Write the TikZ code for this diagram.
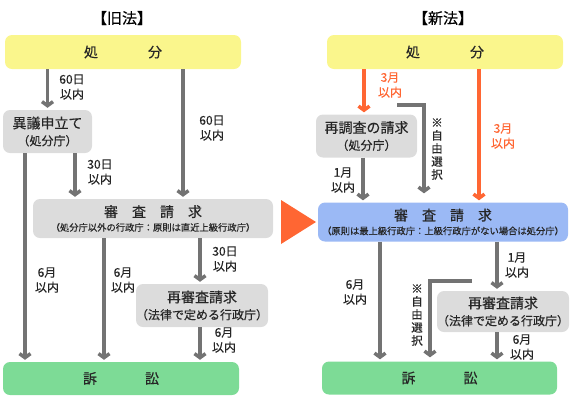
\documentclass[tikz,border=0pt]{standalone}
\usepackage{fontspec}
\setmainfont{Noto Sans CJK JP}[FakeBold=0.4]
\usepackage{tikz}
\usetikzlibrary{arrows.meta,positioning}
\usepackage{xcolor}
\definecolor{shobuncolor}{RGB}{250,246,140}
\definecolor{soshocolor}{RGB}{125,219,150}
\definecolor{shinsacolor}{RGB}{155,185,245}
\definecolor{boxgray}{RGB}{220,220,220}
\definecolor{arrowgray}{RGB}{115,115,115}
\definecolor{neworange}{RGB}{255,102,51}

\begin{document}
\begin{tikzpicture}[
    x=1pt, y=-1pt,
    box/.style={rounded corners=7pt, inner sep=0pt, align=center, text=black!85, font=\fontsize{14}{17}\selectfont},
    arr/.style={draw=arrowgray, line width=3.5pt, -{Straight Barb[length=4pt,width=11pt]}, shorten >=2pt},
    oarr/.style={arr, draw=neworange},
    lbl/.style={align=center, font=\fontsize{12}{15}\selectfont, text=black!85},
    olbl/.style={lbl, text=neworange},
    free/.style={align=center, font=\fontsize{11.5}{13}\selectfont, text=black!85}
]
    \useasboundingbox (0,0) rectangle (570,400);

    % Old law
    \node[font=\fontsize{15}{17}\selectfont] (titleA) at (122,18) {【旧法】};
    \node[box, fill=shobuncolor, minimum width=236pt, minimum height=34pt] (shobunA) at (123,52) {処\hspace{50pt}分};
    \node[box, fill=boxgray, minimum width=89pt, minimum height=43pt] (igi) at (47.5,131.5) {異議申立て\\{\fontsize{12}{14}\selectfont（処分庁）}};
    \node[box, fill=boxgray, minimum width=240pt, minimum height=39pt] (shinsaA) at (153,218.5) {審　査　請　求\\[-3pt]{\fontsize{9.3}{10}\selectfont（処分庁以外の行政庁：原則は直近上級行政庁）}};
    \node[box, fill=boxgray, minimum width=130pt, minimum height=43pt] (saishinA) at (202,305.5) {再審査請求\\{\fontsize{12}{14}\selectfont（法律で定める行政庁）}};
    \node[box, fill=soshocolor, minimum width=236pt, minimum height=33pt] (soshoA) at (121,378.5) {訴\hspace{48pt}訟};

    \draw[arr] (shobunA.south -| igi.north) -- (igi.north);
    \foreach \a/\b/\x in {shobunA/shinsaA/183, igi/soshoA/25, igi/shinsaA/75, shinsaA/soshoA/104, shinsaA/saishinA/200, saishinA/soshoA/200}
        \draw[arr] (\a.south -| \x,0) -- (\b.north -| \x,0);

    \foreach \x/\y/\t in {72/87/60日, 212/128/60日, 100/172/30日, 47/280/6月, 123/280/6月, 225/259/30日, 224/340/6月}
        \node[lbl] at (\x,\y) {\t\\以内};

    % Arrow between the two
    \fill[neworange] (281,200) -- (316,222) -- (281,244) -- cycle;

    % New law
    \node[font=\fontsize{15}{17}\selectfont] (titleB) at (443,18) {【新法】};
    \node[box, fill=shobuncolor, minimum width=236pt, minimum height=34pt] (shobunB) at (445,52) {処\hspace{50pt}分};
    \node[box, fill=boxgray, minimum width=101pt, minimum height=43pt] (saichosa) at (366.5,136) {再調査の請求\\{\fontsize{12}{14}\selectfont（処分庁）}};
    \node[box, fill=shinsacolor, minimum width=250pt, minimum height=39pt] (shinsaB) at (443,222) {審　査　請　求\\[-3pt]{\fontsize{9.3}{10}\selectfont（原則は最上級行政庁：上級行政庁がない場合は処分庁）}};
    \node[box, fill=boxgray, minimum width=129pt, minimum height=41pt] (saishinB) at (503,311.5) {再審査請求\\{\fontsize{12}{14}\selectfont（法律で定める行政庁）}};
    \node[box, fill=soshocolor, minimum width=235pt, minimum height=33pt] (soshoB) at (439.5,378) {訴\hspace{48pt}訟};

    \draw[oarr] (shobunB.south -| 364,0) -- (saichosa.north -| 364,0);
    \draw[oarr] (shobunB.south -| 479,0) -- (shinsaB.north -| 479,0);
    \foreach \a/\b/\x in {saichosa/shinsaB/363, shinsaB/soshoB/380, shinsaB/saishinB/497, saishinB/soshoB/497}
        \draw[arr] (\a.south -| \x,0) -- (\b.north -| \x,0);

    % Free choice
    \coordinate (freeA) at (397,105);
    \coordinate (freeB) at (472,281);
    \draw[arr, shorten >=9pt] (freeA) -| (shinsaB.north -| 424,0);
    \draw[arr, shorten >=4pt] (freeB) -| (soshoB.north -| 430,0);
    \node[free] at (437,149) {※\\自\\由\\選\\択};
    \node[free] at (417,315) {※\\自\\由\\選\\択};

    \node[olbl] at (390,85) {3月\\以内};
    \node[olbl] at (503,136) {3月\\以内};
    \foreach \x/\y/\t in {343/180/1月, 355/292/6月, 517/265/1月, 522/347/6月}
        \node[lbl] at (\x,\y) {\t\\以内};
\end{tikzpicture}
\end{document}
